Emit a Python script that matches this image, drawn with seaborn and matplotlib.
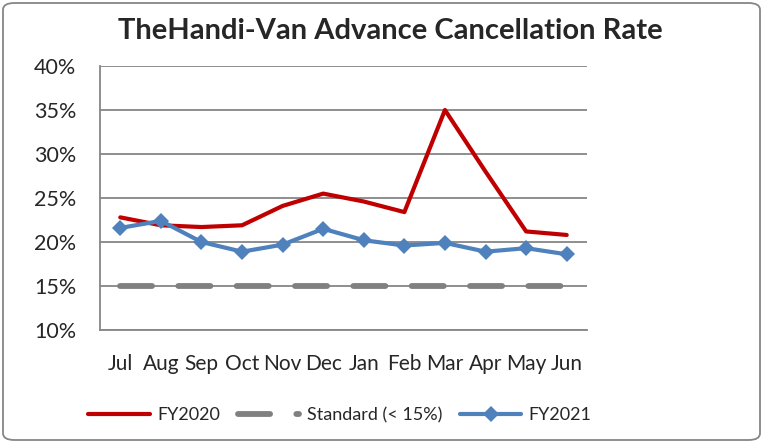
import matplotlib
matplotlib.use("Agg")
import matplotlib.pyplot as plt
import seaborn as sns
from matplotlib.patches import FancyBboxPatch
from matplotlib.ticker import FuncFormatter, MultipleLocator

# data
months = ["Jul", "Aug", "Sep", "Oct", "Nov", "Dec", "Jan", "Feb", "Mar", "Apr", "May", "Jun"]
fy2020 = [22.8, 21.9, 21.7, 21.9, 24.1, 25.5, 24.6, 23.4, 35.0, 28.0, 21.2, 20.8]
standard = [15] * 12
fy2021 = [21.6, 22.4, 20.0, 18.9, 19.7, 21.5, 20.2, 19.6, 19.9, 18.9, 19.3, 18.6]

sns.set_style("white")
plt.rcParams["font.family"] = ["Lato", "DejaVu Sans"]

fig = plt.figure(figsize=(7.63, 4.43), dpi=100)
ax = fig.add_axes([100 / 763, 1 - 330 / 443, 487 / 763, 264 / 443])

sns.lineplot(x=months, y=fy2020, ax=ax, color="#C00000", lw=3, label="FY2020", sort=False)
sns.lineplot(x=months, y=standard, ax=ax, color="#808080", lw=4.2, label="Standard (< 15%)",
             sort=False, dashes=False)
ax.lines[-1].set_dashes([5.5, 4.5])
ax.lines[-1].set_dash_capstyle("round")
sns.lineplot(x=months, y=fy2021, ax=ax, color="#4F81BD", lw=3, marker="D", markersize=8,
             markeredgewidth=0, label="FY2021", sort=False)

ax.set_xlim(-0.5, 11.5)
ax.set_ylim(10, 40)
ax.yaxis.set_major_locator(MultipleLocator(5))
ax.yaxis.set_major_formatter(FuncFormatter(lambda v, p: f"{v:.0f}%"))
ax.set_xticks(range(12))
ax.set_xticklabels(months)
ax.set_xticks([i - 0.5 for i in range(13)], minor=True)
ax.tick_params(axis="x", which="major", length=0, pad=17, labelsize=15)
ax.tick_params(axis="x", which="minor", length=6, color="#868686", width=1.3, direction="out")
ax.tick_params(axis="y", length=5, color="#868686", width=1.3, direction="out", pad=12, labelsize=15.5)
ax.grid(axis="y", color="#868686", lw=1.3)
ax.set_axisbelow(True)
for s in ["top", "right"]:
    ax.spines[s].set_visible(False)
for s in ["left", "bottom"]:
    ax.spines[s].set_color("#868686")
    ax.spines[s].set_linewidth(1.3)

fig.text(390 / 763, 1 - 31 / 443, "TheHandi-Van Advance Cancellation Rate", ha="center", va="center",
         fontsize=21, fontweight="bold")

ax.legend(loc="center", bbox_to_anchor=(340 / 763, 1 - 415 / 443), bbox_transform=fig.transFigure,
          ncol=3, frameon=False, fontsize=13, handlelength=3.4, columnspacing=1.0, handletextpad=0.4)

fig.patches.append(FancyBboxPatch((3 / 763, 3 / 443), 757 / 763, 437 / 443,
                                  boxstyle="round,pad=0,rounding_size=0.015",
                                  transform=fig.transFigure, fill=False, ec="#868686", lw=1.3))

fig.savefig("out.png", dpi=100)
